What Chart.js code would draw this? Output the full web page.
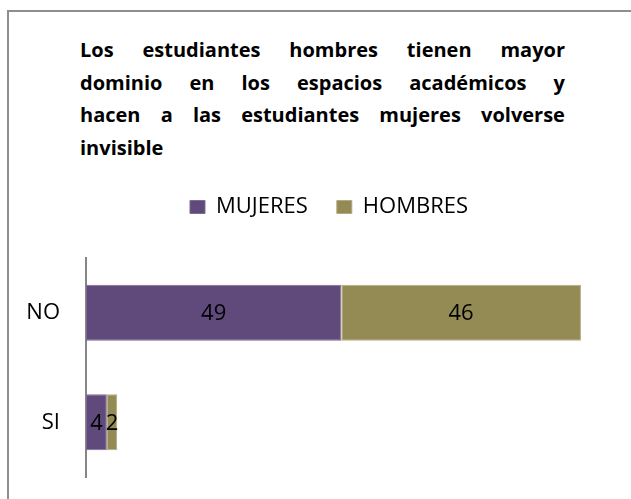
<!DOCTYPE html>
<html><head><meta charset="utf-8">
<script src="https://cdn.jsdelivr.net/npm/chart.js@4"></script>
<style>
html,body{margin:0;padding:0;background:#fff;}
#wrap{position:relative;width:631px;height:499px;overflow:hidden;font-family:"Open Sans",Lato,sans-serif;}
#frame{position:absolute;left:7px;top:10px;width:700px;height:600px;border:2px solid #8e8e8e;box-sizing:border-box;}
#title{position:absolute;left:80px;top:34px;width:485px;font-weight:bold;font-size:20px;color:#000;}
#title .ln{display:flex;justify-content:space-between;height:32.7px;line-height:32.7px;white-space:nowrap;}
#title .ln.last{justify-content:flex-start;}
canvas{position:absolute;left:0;top:0;}
</style></head>
<body><div id="wrap">
<div id="frame"></div>
<div id="title"></div>
<canvas id="c" width="631" height="499"></canvas>
</div>
<script>
const titleLines = [
  "Los estudiantes hombres tienen mayor",
  "dominio en los espacios académicos y",
  "hacen a las estudiantes mujeres volverse",
  "invisible"
];
const categories = ["NO", "SI"];
const mujeres = [49, 4];
const hombres = [46, 2];
const seriesNames = ["MUJERES", "HOMBRES"];

const t = document.getElementById('title');
titleLines.forEach((line, i) => {
  const d = document.createElement('div');
  d.className = 'ln' + (i === titleLines.length - 1 ? ' last' : '');
  line.split(' ').forEach(w => { const s = document.createElement('span'); s.textContent = w; d.appendChild(s); });
  t.appendChild(d);
});

const labelPlugin = {
  id: 'centerLabels',
  beforeLayout(chart) {
    const lg = chart.legend;
    if (lg && !lg._patched) {
      const origFit = lg.fit;
      lg.fit = function () { origFit.call(this); this.height = 91; };
      lg._patched = true;
    }
  },
  afterLayout(chart) {
    if (chart.legend) { chart.legend.left = 51; }
  },
  afterDatasetsDraw(chart) {
    const ctx = chart.ctx;
    ctx.save();
    ctx.font = '22px "Open Sans", sans-serif';
    ctx.fillStyle = '#000';
    ctx.textAlign = 'center';
    ctx.textBaseline = 'middle';
    chart.data.datasets.forEach((ds, di) => {
      chart.getDatasetMeta(di).data.forEach((bar, i) => {
        const p = bar.getProps(['x', 'y', 'base'], true);
        ctx.fillText(String(ds.data[i]), (p.x + p.base) / 2, p.y + 1);
      });
    });
    ctx.restore();
  }
};

new Chart(document.getElementById('c'), {
  type: 'bar',
  data: {
    labels: categories,
    datasets: [
      { label: seriesNames[0], data: mujeres, backgroundColor: '#604A7B', borderColor: '#7d6a94', borderWidth: 1, borderSkipped: false },
      { label: seriesNames[1], data: hombres, backgroundColor: '#948A54', borderColor: '#b3ab80', borderWidth: 1, borderSkipped: false }
    ]
  },
  options: {
    indexAxis: 'y',
    responsive: false,
    animation: false,
    layout: { padding: { top: 167, left: 24, right: 24, bottom: 22 } },
    scales: {
      x: { stacked: true, display: false, min: 0, max: 100 },
      y: {
        stacked: true,
        afterFit(scale) { scale.width = 62; scale.paddingTop = 0; scale.paddingBottom = 0; },
        grid: { display: false, drawTicks: false },
        border: { display: true, color: '#868686', width: 2 },
        ticks: { color: '#000', font: { family: 'Open Sans', size: 22 }, padding: 26 }
      }
    },
    datasets: { bar: { categoryPercentage: 1, barPercentage: 0.51 } },
    plugins: {
      legend: {
        position: 'top',
        labels: { color: '#000', font: { family: 'Open Sans', size: 22 }, boxWidth: 15, boxHeight: 13, padding: 29 }
      },
      tooltip: { enabled: false }
    }
  },
  plugins: [labelPlugin]
});
</script>
</body></html>
